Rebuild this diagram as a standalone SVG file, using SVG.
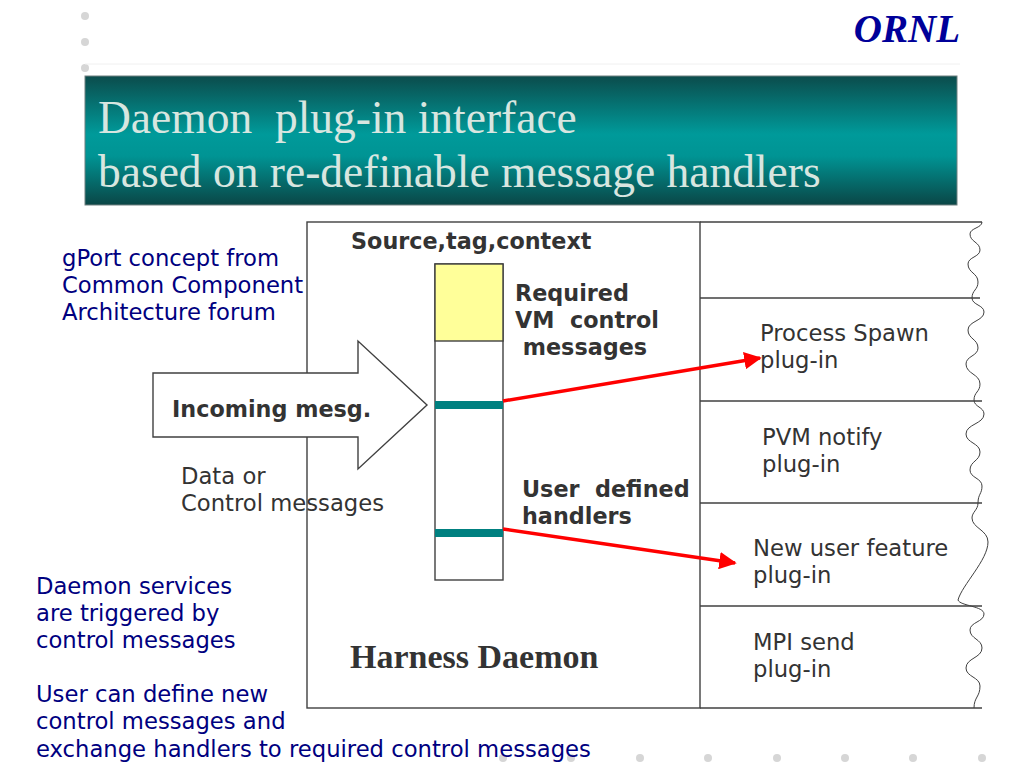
<svg xmlns="http://www.w3.org/2000/svg" width="1024" height="768" viewBox="0 0 1024 768">
<defs>
<linearGradient id="bannerGrad" x1="0" y1="0" x2="0" y2="1">
<stop offset="0" stop-color="#0b4c4c"/>
<stop offset="0.45" stop-color="#009a9a"/>
<stop offset="0.62" stop-color="#009494"/>
<stop offset="1" stop-color="#0a4646"/>
</linearGradient>
<marker id="redHead" viewBox="0 0 10 10" refX="9" refY="5" markerWidth="5" markerHeight="5" orient="auto" markerUnits="strokeWidth">
<path d="M0,0 L10,5 L0,10 z" fill="#ff0000"/>
</marker>
<style>
.dot{fill:#d6d6d6}
.box{fill:none;stroke:#404040;stroke-width:1.4}
.ln{stroke:#404040;stroke-width:1.4}
.blue{font-family:"DejaVu Sans",Verdana,sans-serif;font-size:22.7px;fill:#000080}
.gray{font-family:"DejaVu Sans",Verdana,sans-serif;font-size:22.7px;fill:#333333}
.bold{font-family:"DejaVu Sans",Verdana,sans-serif;font-size:22.3px;font-weight:bold;fill:#333333}
.title{font-family:"Liberation Serif","Times New Roman",serif;font-size:45.5px;fill:#d8e6e0}
.red{stroke:#ff0000;stroke-width:3.5;fill:none}
</style>
</defs>
<rect width="1024" height="768" fill="#ffffff"/>

<g id="decoration">
<circle class="dot" cx="85" cy="16" r="4"/>
<circle class="dot" cx="85" cy="42" r="4"/>
<circle class="dot" cx="85" cy="68" r="4"/>
<line x1="85" y1="64" x2="960" y2="64" stroke="#f0f0f0" stroke-width="1"/>
<circle class="dot" cx="503" cy="758" r="4"/>
<circle class="dot" cx="571" cy="758" r="4"/>
<circle class="dot" cx="640" cy="758" r="4"/>
<circle class="dot" cx="708" cy="758" r="4"/>
<circle class="dot" cx="777" cy="758" r="4"/>
<circle class="dot" cx="845" cy="758" r="4"/>
<circle class="dot" cx="913" cy="758" r="4"/>
<circle class="dot" cx="982" cy="758" r="4"/>
<text x="960" y="42" text-anchor="end" font-family="'Liberation Serif','Times New Roman',serif" font-size="39" font-weight="bold" font-style="italic" fill="#000099">ORNL</text>
</g>

<g id="banner">
<rect x="85" y="76" width="872" height="129" fill="url(#bannerGrad)" stroke="#6f8080" stroke-width="1"/>
<text class="title" x="98" y="133" xml:space="preserve">Daemon  plug-in interface</text>
<text class="title" x="98" y="187">based on re-definable message handlers</text>
</g>

<g id="harness-daemon">
<rect class="box" x="307" y="222" width="393" height="486" fill="#ffffff"/>
<text x="350" y="668" font-family="'Liberation Serif','Times New Roman',serif" font-size="34" font-weight="bold" fill="#333333">Harness Daemon</text>
</g>

<g id="plugin-column">
<line class="ln" x1="700" y1="222" x2="982" y2="222"/>
<line class="ln" x1="700" y1="298" x2="980" y2="298"/>
<line class="ln" x1="700" y1="401" x2="982" y2="401"/>
<line class="ln" x1="700" y1="503" x2="982" y2="503"/>
<line class="ln" x1="700" y1="606" x2="982" y2="606"/>
<line class="ln" x1="700" y1="708" x2="982" y2="708"/>
<path fill="none" stroke="#404040" stroke-width="1" d="M982,222 C982,228 970,228 970,234 C970,242 980,242 980,250 C980,257 968,257 968,264 C968,273 978,273 978,282 C978,290 972,290 972,298 C972,305 984,305 984,312 C984,321 968,321 968,330 C968,339 978,339 978,348 C978,356 966,356 966,364 C966,374 980,374 980,384 C980,392 974,392 974,400 C974,407 984,407 984,414 C984,424 966,424 966,434 C966,443 980,443 980,452 C980,461 970,461 970,470 C970,478 982,478 982,486 C982,494 978,494 978,503 C978,510 972,512 972,518 C972,528 988,530 988,542 C988,560 962,585 958,600 C960,606 984,606 984,614 C984,622 970,622 970,630 C970,639 982,639 982,648 C982,658 966,658 966,668 C966,677 980,677 980,686 C980,697 974,697 974,708"/>
</g>

<g id="node-process-spawn">
<text class="gray" x="760" y="341">Process Spawn</text>
<text class="gray" x="760" y="368">plug-in</text>
</g>
<g id="node-pvm-notify">
<text class="gray" x="762" y="445">PVM notify</text>
<text class="gray" x="762" y="472">plug-in</text>
</g>
<g id="node-new-user-feature">
<text class="gray" x="753" y="556">New user feature</text>
<text class="gray" x="753" y="583">plug-in</text>
</g>
<g id="node-mpi-send">
<text class="gray" x="753" y="650">MPI send</text>
<text class="gray" x="753" y="677">plug-in</text>
</g>

<g id="incoming-arrow">
<polygon points="153,373 358,373 358,341 427,405 358,469 358,437 153,437" fill="#ffffff" stroke="#404040" stroke-width="1.4"/>
<text class="bold" x="172" y="417">Incoming mesg.</text>
</g>

<g id="data-label">
<text class="gray" x="181" y="484">Data or</text>
<text class="gray" x="181" y="511">Control messages</text>
</g>

<g id="message-column">
<rect x="435" y="264" width="68" height="316" fill="#ffffff" stroke="#404040" stroke-width="1.4"/>
<rect x="435" y="264" width="68" height="77" fill="#ffff99" stroke="#404040" stroke-width="1.4"/>
<rect x="435" y="401" width="68" height="8" fill="#008080"/>
<rect x="435" y="529" width="68" height="8" fill="#008080"/>
<text class="bold" x="351" y="249">Source,tag,context</text>
</g>

<g id="required-label">
<text class="bold" x="515" y="301">Required</text>
<text class="bold" x="515" y="328" xml:space="preserve">VM  control</text>
<text class="bold" x="515" y="355" xml:space="preserve"> messages</text>
</g>

<g id="user-label">
<text class="bold" x="522" y="497" xml:space="preserve">User  defined</text>
<text class="bold" x="522" y="524">handlers</text>
</g>

<g id="connectors">
<line class="red" x1="503" y1="401" x2="760" y2="358" marker-end="url(#redHead)"/>
<line class="red" x1="503" y1="529" x2="735" y2="563" marker-end="url(#redHead)"/>
</g>

<g id="notes">
<text class="blue" x="62" y="266">gPort concept from</text>
<text class="blue" x="62" y="293">Common Component</text>
<text class="blue" x="62" y="320">Architecture forum</text>
<text class="blue" x="36" y="594">Daemon services</text>
<text class="blue" x="36" y="621">are triggered by</text>
<text class="blue" x="36" y="648">control messages</text>
<text class="blue" x="36" y="702">User can define new</text>
<text class="blue" x="36" y="729">control messages and</text>
<text class="blue" x="36" y="757">exchange handlers to required control messages</text>
</g>
</svg>
